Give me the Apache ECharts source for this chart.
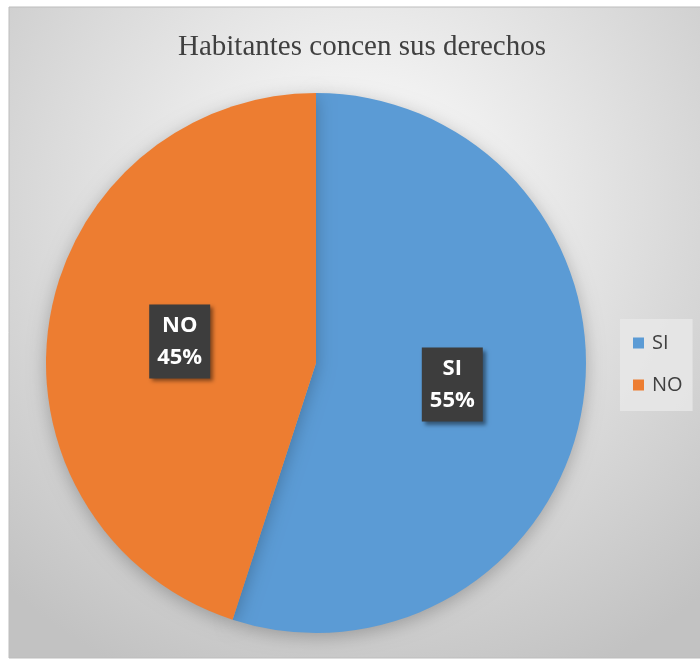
<!DOCTYPE html>
<html><head><meta charset="utf-8">
<script src="https://cdn.jsdelivr.net/npm/echarts@6/dist/echarts.min.js"></script>
<style>html,body{margin:0;padding:0;background:#fff}#c{width:700px;height:659px}</style>
</head><body><div id="c"></div>
<script>
const categories = ['SI', 'NO'];
const values = [55, 45];
const colors = ['#5B9BD5', '#ED7D31'];
const chartTitle = 'Habitantes concen sus derechos';
const captionAbove = 'Gráfico N° 1: Habitantes conocen sus derechos';

const chart = echarts.init(document.getElementById('c'));
chart.setOption({
  animation: false,
  backgroundColor: '#ffffff',
  graphic: [
    {
      type: 'rect', z: -10, shape: { x: 9, y: 7, width: 700, height: 651 },
      style: {
        fill: { type: 'radial', x: 0.5, y: 0.3, r: 0.8,
          colorStops: [{ offset: 0, color: '#ffffff' }, { offset: 1, color: '#c2c2c2' }] },
        stroke: '#bdbdbd', lineWidth: 1
      }
    },
    {
      type: 'text', left: 70, top: -18.5, z: 5,
      style: { text: captionAbove, font: 'bold 25px "Liberation Serif"', fill: '#555' }
    }
  ],
  title: {
    text: chartTitle, left: 357, top: 28, textAlign: 'center',
    textStyle: { fontFamily: 'Liberation Serif', fontWeight: 'normal', fontSize: 29, color: '#404040' }
  },
  legend: {
    orient: 'vertical', left: 620, top: 319,
    itemWidth: 11, itemHeight: 11, itemGap: 22,
    padding: [14, 10, 16, 13],
    backgroundColor: 'rgba(232,232,232,0.85)',
    icon: 'rect',
    textStyle: { fontFamily: 'Open Sans', fontSize: 20, color: '#404040', padding: [0, 0, 0, 3] },
    data: categories
  },
  series: [{
    type: 'pie', center: [316, 363], radius: 270,
    startAngle: 90, clockwise: true,
    label: {
      show: true, position: 'inside',
      formatter: '{b}\n{d}%',
      fontFamily: 'Open Sans', fontWeight: 'bold', fontSize: 22, color: '#ffffff',
      lineHeight: 32,
      backgroundColor: '#3d3d3d', padding: [5, 8, 5, 8],
      shadowColor: 'rgba(0,0,0,0.45)', shadowBlur: 4, shadowOffsetX: 3, shadowOffsetY: 3
    },
    labelLine: { show: false },
    itemStyle: { borderWidth: 0, shadowColor: 'rgba(0,0,0,0.25)', shadowBlur: 18, shadowOffsetY: 4 },
    emphasis: { disabled: true },
    data: categories.map((c, i) => ({ name: c, value: values[i], itemStyle: { color: colors[i] } }))
  }]
});
</script></body></html>
